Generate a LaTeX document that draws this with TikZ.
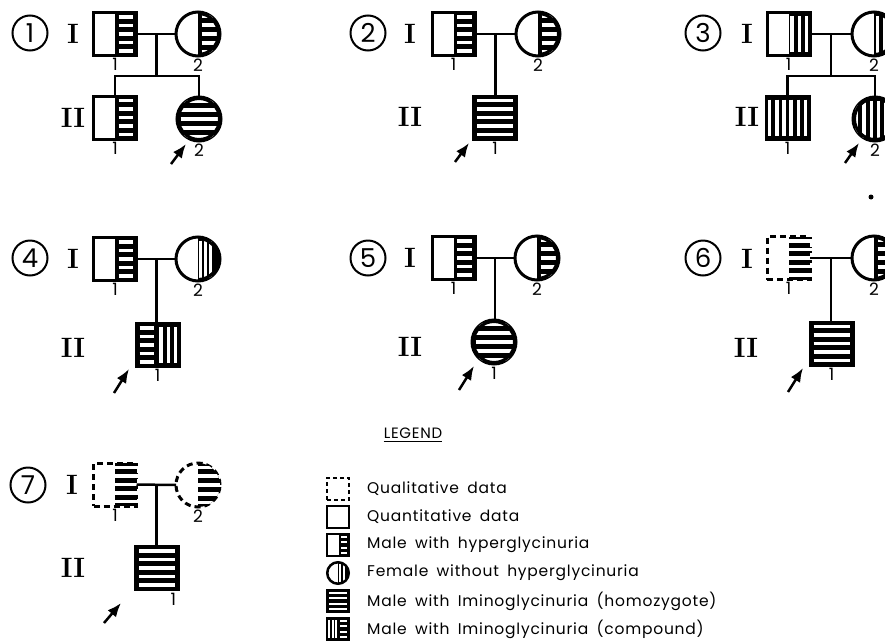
\documentclass[tikz,border=0pt]{standalone}
\usepackage{fontspec}
\newfontfamily\gothic{Poppins}
\newfontfamily\gothicwide{Poppins}[LetterSpace=5,WordSpace=1.7]
\usetikzlibrary{positioning,calc,arrows.meta}

% stripes: #1 top left, #2 bottom right, #3 number of white lines
\newcommand{\gapin}{3.5}
\newcommand{\hstripes}[3]{%
  \coordinate (tl) at (#1); \coordinate (br) at (#2);
  \fill (tl) rectangle (br);
  \foreach \k in {1,...,#3}
    \draw[stripegap] ($(tl)!{(\k-0.5)/#3}!(tl|-br)+(\gapin,0)$) -- ($(tl-|br)!{(\k-0.5)/#3}!(br)-(\gapin,0)$);
}
\newcommand{\vstripes}[3]{%
  \coordinate (tl) at (#1); \coordinate (br) at (#2);
  \fill (tl) rectangle (br);
  \foreach \k in {1,...,#3}
    \draw[stripegap] ($(tl)!{(\k-0.5)/#3}!(tl-|br)+(0,\gapin)$) -- ($(tl|-br)!{(\k-0.5)/#3}!(br)-(0,\gapin)$);
}
% stripes inside a female symbol, black rim only over the striped part
\newcommand{\inring}[2]{\begin{scope}\clip (#1) circle (22); #2
  \clip (tl) rectangle (#1.east |- br); \draw[rim] (#1) circle (20.5);\end{scope}}

\tikzset{
  sym/.style={draw, line width=3pt, fill=white, inner sep=0pt, outer sep=0pt},
  male/.style={sym, rectangle, minimum size=43pt},
  female/.style={sym, circle, minimum size=44pt},
  maleq/.style={male, dash pattern=on 6pt off 4pt},
  femaleq/.style={female, dash pattern=on 6pt off 4pt},
  rim/.style={line width=3pt},
  stripegap/.style={white, line width=3.5pt},
  link/.style={line width=2.5pt},
  proband/.style={line width=2.5pt, -{Latex[length=14pt,width=11pt]}},
  gen/.style={inner sep=0pt, font=\bfseries\fontsize{28}{28}\selectfont},
  idx/.style={inner sep=0pt, font=\gothic\fontsize{17}{17}\selectfont},
  famno/.style={circle, draw, line width=2pt, minimum size=35pt, inner sep=0pt, font=\gothic\fontsize{26}{26}\selectfont},
  icon/.style={draw, line width=2pt, fill=white, inner sep=0pt, outer sep=0pt, minimum size=22pt},
  legtext/.style={inner sep=0pt, anchor=west, font=\gothicwide\fontsize{15.5}{15.5}\selectfont},
}

\begin{document}
\begin{tikzpicture}[x=1pt,y=-1pt]
\clip (0,0) rectangle (885,640);

% family 1
\node[famno] (c1) at (30,33) {1};
\node[gen] (g1a) at (73,34) {I};
\node[gen] (g1b) at (73,118) {II};
\node[male] (p1a) at (115,34) {};
\node[female] (p1b) at (198,34) {};
\node[male] (p1c) at (115,117.5) {};
\node[female] (p1d) at (199,119) {};
\hstripes{p1a.north}{p1a.south east}{5}
\inring{p1b}{\hstripes{p1b.north}{p1b.east |- p1b.south}{5}}
\hstripes{p1c.north}{p1c.south east}{5}
\inring{p1d}{\hstripes{p1d.west |- p1d.north}{p1d.east |- p1d.south}{5}}
\node[idx, below=3pt of p1a] {1};
\node[idx, below=3pt of p1b] {2};
\node[idx, below=3pt of p1c] {1};
\node[idx, below=3pt of p1d] {2};
\coordinate (m1) at ($(p1a.east)!0.5!(p1b.west)$);
\coordinate (s1) at ($(m1)+(0,42)$);
\draw[link] (p1a) -- (p1b);
\draw[link] (m1) -- (s1);
\draw[link] (p1c) |- (s1) -| (p1d);
\coordinate (a1) at (171,164);
\coordinate (h1) at (186,144);
\draw[proband] (a1) -- (h1);

% family 2
\node[famno] (c2) at (368,33) {2};
\node[gen] (g2a) at (410,34) {I};
\node[gen] (g2b) at (410,117) {II};
\node[male] (p2a) at (453.5,34) {};
\node[female] (p2b) at (538,34) {};
\node[male] (p2c) at (495,117.5) {};
\hstripes{p2a.north}{p2a.south east}{5}
\inring{p2b}{\hstripes{p2b.north}{p2b.east |- p2b.south}{5}}
\hstripes{p2c.north west}{p2c.south east}{5}
\node[idx, below=3pt of p2a] {1};
\node[idx, below=3pt of p2b] {2};
\node[idx, below=3pt of p2c] {1};
\coordinate (m2) at ($(p2a.east)!0.5!(p2b.west)$);
\draw[link] (p2a) -- (p2b);
\draw[link] (m2) -- (m2 |- p2c.north);
\coordinate (a2) at (455,162);
\coordinate (h2) at (469,143);
\draw[proband] (a2) -- (h2);

% family 3
\node[famno] (c3) at (703,33) {3};
\node[gen] (g3a) at (747,34) {I};
\node[gen] (g3b) at (747,117) {II};
\node[male] (p3a) at (788.5,34) {};
\node[female] (p3b) at (874,34) {};
\node[male] (p3c) at (787.5,117.5) {};
\node[female] (p3d) at (875,119) {};
\vstripes{p3a.north}{p3a.south east}{3}
\inring{p3b}{\vstripes{p3b.north}{p3b.east |- p3b.south}{3}}
\vstripes{p3c.north west}{p3c.south east}{6}
\inring{p3d}{\vstripes{p3d.west |- p3d.north}{p3d.east |- p3d.south}{6}}
\node[idx, below=3pt of p3a] {1};
\node[idx, below=3pt of p3b] {2};
\node[idx, below=3pt of p3c] {1};
\node[idx, below=3pt of p3d] {2};
\coordinate (m3) at ($(p3a.east)!0.5!(p3b.west)$);
\coordinate (s3) at ($(m3)+(0,42)$);
\draw[link] (p3a) -- (p3b);
\draw[link] (m3) -- (s3);
\draw[link] (p3c) |- (s3) -| (p3d);
\coordinate (a3) at (845,163);
\coordinate (h3) at (859,143);
\draw[proband] (a3) -- (h3);

% family 4
\node[famno] (c4) at (30,258) {4};
\node[gen] (g4a) at (73,259) {I};
\node[gen] (g4b) at (73,348) {II};
\node[male] (p4a) at (115,259) {};
\node[female] (p4b) at (198,259) {};
\node[male] (p4c) at (157.5,345) {};
\hstripes{p4a.north}{p4a.south east}{5}
\inring{p4b}{\fill (p4b.north) rectangle (p4b.east |- p4b.south);
  \vstripes{p4b.north}{$(p4b.south)+(15,0)$}{3}}
\hstripes{p4c.north west}{p4c.south}{5}
\vstripes{p4c.north}{p4c.south east}{3}
\node[idx, below=3pt of p4a] {1};
\node[idx, below=3pt of p4b] {2};
\node[idx, below=3pt of p4c] {1};
\coordinate (m4) at ($(p4a.east)!0.5!(p4b.west)$);
\draw[link] (p4a) -- (p4b);
\draw[link] (m4) -- (m4 |- p4c.north);
\coordinate (a4) at (114,393);
\coordinate (h4) at (129,369);
\draw[proband] (a4) -- (h4);

% family 5
\node[famno] (c5) at (368,258) {5};
\node[gen] (g5a) at (410,258) {I};
\node[gen] (g5b) at (410,347) {II};
\node[male] (p5a) at (453.5,258) {};
\node[female] (p5b) at (537,258) {};
\node[female] (p5c) at (494,342) {};
\hstripes{p5a.north}{p5a.south east}{5}
\inring{p5b}{\hstripes{p5b.north}{p5b.east |- p5b.south}{5}}
\inring{p5c}{\hstripes{p5c.west |- p5c.north}{p5c.east |- p5c.south}{5}}
\node[idx, below=3pt of p5a] {1};
\node[idx, below=3pt of p5b] {2};
\node[idx, below=3pt of p5c] {1};
\coordinate (m5) at ($(p5a.east)!0.5!(p5b.west)$);
\draw[link] (p5a) -- (p5b);
\draw[link] (m5) -- (m5 |- p5c.north);
\coordinate (a5) at (459,390);
\coordinate (h5) at (474,366);
\draw[proband] (a5) -- (h5);

% family 6
\node[famno] (c6) at (703,258) {6};
\node[gen] (g6a) at (747,259) {I};
\node[gen] (g6b) at (746,348) {II};
\node[maleq] (p6a) at (788.5,258) {};
\node[female] (p6b) at (874,258) {};
\node[male] (p6c) at (831.5,343.5) {};
\begin{scope}
  \renewcommand{\gapin}{-3}
  \hstripes{p6a.north}{p6a.south east}{5}
\end{scope}
\inring{p6b}{\hstripes{p6b.north}{p6b.east |- p6b.south}{5}}
\hstripes{p6c.north west}{p6c.south east}{5}
\node[idx, below=3pt of p6a] {1};
\node[idx, below=3pt of p6b] {2};
\node[idx, below=3pt of p6c] {1};
\coordinate (m6) at ($(p6a.east)!0.5!(p6b.west)$);
\draw[link] (p6a) -- (p6b);
\draw[link] (m6) -- (m6 |- p6c.north);
\coordinate (a6) at (788,392);
\coordinate (h6) at (803,368);
\draw[proband] (a6) -- (h6);
\fill (871,197) circle (2.5);

% family 7
\node[famno] (c7) at (28,485) {7};
\node[gen] (g7a) at (72,485) {I};
\node[gen] (g7b) at (73,568) {II};
\node[maleq] (p7a) at (115,484.5) {};
\node[femaleq] (p7b) at (198,485) {};
\node[male] (p7c) at (157,568) {};
\begin{scope}
  \renewcommand{\gapin}{-3}
  \hstripes{p7a.north}{p7a.south east}{5}
  \begin{scope}
    \clip (p7b) circle (22);
    \hstripes{p7b.north}{p7b.east |- p7b.south}{5}
  \end{scope}
\end{scope}
\hstripes{p7c.north west}{p7c.south east}{5}
\node[idx, below=3pt of p7a] {1};
\node[idx, below=3pt of p7b] {2};
\node[idx, below right=3pt and -8pt of p7c] {1};
\coordinate (m7) at ($(p7a.east)!0.5!(p7b.west)$);
\draw[link] (p7a) -- (p7b);
\draw[link] (m7) -- (m7 |- p7c.north);
\coordinate (a7) at (104,623);
\coordinate (h7) at (121,603);
\draw[proband] (a7) -- (h7);

% legend
\node[inner sep=0pt, font=\gothicwide\fontsize{15}{15}\selectfont] (leg) at (413,433) {LEGEND};
\draw[line width=1pt] ($(leg.south west)+(0,3)$) -- ($(leg.south east)+(0,3)$);
\begin{scope}[stripegap/.style={white, line width=2pt}]
  \renewcommand{\gapin}{2}
  \node[icon, dash pattern=on 4pt off 3pt] (l1) at (338,489) {};
  \node[icon] (l2) at (338,517) {};
  \node[icon] (l3) at (338,545) {};
  \node[icon, circle] (l4) at (338,573) {};
  \node[icon] (l5) at (338,601) {};
  \node[icon] (l6) at (338,629) {};
  \hstripes{$(l3.north)+(1,0)$}{l3.south east}{4}
  \begin{scope}
    \clip (l4) circle (11);
    \fill (l4.north) rectangle (l4.east |- l4.south);
    \vstripes{l4.north}{$(l4.south)+(8,0)$}{2}
  \end{scope}
  \draw[line width=2pt] (l4) circle (10.5);
  \hstripes{l5.north west}{l5.south east}{4}
  \vstripes{l6.north west}{l6.south}{3}
  \hstripes{l6.north}{l6.south east}{4}
\end{scope}
\node[legtext, right=18pt of l1] (t1) {Qualitative data};
\node[legtext, right=18pt of l2] (t2) {Quantitative data};
\node[legtext, right=18pt of l3] (t3) {Male with hyperglycinuria};
\node[legtext, right=18pt of l4] (t4) {Female without hyperglycinuria};
\node[legtext, right=18pt of l5] (t5) {Male with Iminoglycinuria (homozygote)};
\node[legtext, right=18pt of l6] (t6) {Male with Iminoglycinuria (compound)};
\end{tikzpicture}
\end{document}
